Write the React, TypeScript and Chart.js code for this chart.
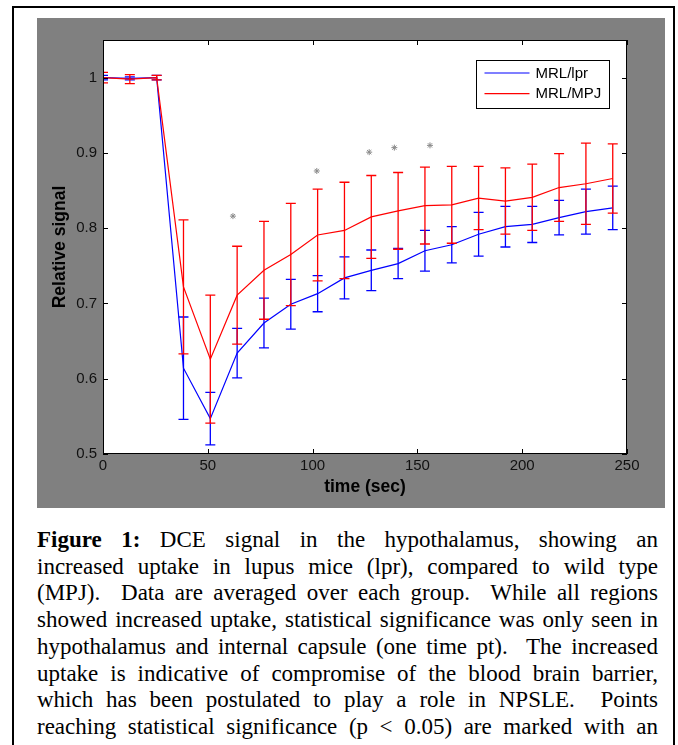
import React, { useEffect, useRef } from "react";
import { Chart, registerables } from "chart.js";
Chart.register(...registerables);

// time points (sec)
const times = [0, 12.8, 25.6, 38.4, 51.2, 64, 76.8, 89.6, 102.4, 115.2, 128, 140.8, 153.6, 166.4, 179.2, 192, 204.8, 217.6, 230.4, 243.2];
// MRL/lpr (blue)
const lprMean = [1.0, 0.999, 1.0, 0.614, 0.547, 0.634, 0.674, 0.699, 0.713, 0.734, 0.744, 0.753, 0.770, 0.778, 0.792, 0.802, 0.805, 0.814, 0.822, 0.827];
const lprErr = [0.003, 0.002, 0.003, 0.068, 0.035, 0.033, 0.033, 0.033, 0.024, 0.028, 0.027, 0.020, 0.027, 0.024, 0.029, 0.027, 0.024, 0.023, 0.030, 0.029];
// MRL/MPJ (red)
const mpjMean = [1.0, 0.998, 1.0, 0.722, 0.626, 0.711, 0.744, 0.765, 0.791, 0.797, 0.815, 0.823, 0.830, 0.831, 0.840, 0.836, 0.841, 0.854, 0.859, 0.866];
const mpjErr = [0.007, 0.006, 0.003, 0.089, 0.085, 0.065, 0.065, 0.068, 0.061, 0.064, 0.055, 0.051, 0.051, 0.051, 0.042, 0.044, 0.044, 0.045, 0.054, 0.046];
// significance markers
const starTimes = [62, 102, 127, 139, 156];
const starValues = [0.816, 0.876, 0.901, 0.907, 0.910];

const xTicks = [0, 50, 100, 150, 200, 250];
const yTicks = [0.5, 0.6, 0.7, 0.8, 0.9, 1];
const seriesLabels = ["MRL/lpr", "MRL/MPJ"];
const xTitle = "time (sec)";
const yTitle = "Relative signal";

const captionBold = "Figure 1:";
const captionLines = [
  " DCE signal in the hypothalamus, showing an",
  "increased uptake in lupus mice (lpr), compared to wild type",
  "(MPJ).  Data are averaged over each group.  While all regions",
  "showed increased uptake, statistical significance was only seen in",
  "hypothalamus and internal capsule (one time pt).  The increased",
  "uptake is indicative of compromise of the blood brain barrier,",
  "which has been postulated to play a role in NPSLE.  Points",
  "reaching statistical significance (p < 0.05) are marked with an",
];

const BLUE = "#0000ff";
const RED = "#ff0000";
const SANS = "'Liberation Sans', Arial, Helvetica, sans-serif";

const bgPlugin = {
  id: "bgPlugin",
  beforeDraw(chart: any) {
    const { ctx, chartArea: a } = chart;
    ctx.save();
    ctx.fillStyle = "#808080";
    ctx.fillRect(0, 0, chart.width, chart.height);
    ctx.fillStyle = "#ffffff";
    ctx.fillRect(a.left, a.top, a.right - a.left, a.bottom - a.top);
    ctx.restore();
  },
};

const errorBarPlugin = {
  id: "errorBarPlugin",
  afterDatasetDraw(chart: any, args: any) {
    const ds = chart.data.datasets[args.index];
    if (!ds.errors) return;
    const xs = chart.scales.x;
    const ys = chart.scales.y;
    const a = chart.chartArea;
    const ctx = chart.ctx;
    ctx.save();
    ctx.beginPath();
    ctx.rect(a.left, a.top, a.right - a.left, a.bottom - a.top);
    ctx.clip();
    ctx.strokeStyle = ds.borderColor;
    ctx.lineWidth = 1.3;
    ds.data.forEach((p: any, i: number) => {
      const px = xs.getPixelForValue(p.x);
      const top = ys.getPixelForValue(p.y + ds.errors[i]);
      const bot = ys.getPixelForValue(p.y - ds.errors[i]);
      ctx.beginPath();
      ctx.moveTo(px, top);
      ctx.lineTo(px, bot);
      ctx.moveTo(px - 5, top);
      ctx.lineTo(px + 5, top);
      ctx.moveTo(px - 5, bot);
      ctx.lineTo(px + 5, bot);
      ctx.stroke();
    });
    ctx.restore();
  },
};

const axesPlugin = {
  id: "axesPlugin",
  afterDatasetsDraw(chart: any) {
    const { ctx, chartArea: a } = chart;
    const xs = chart.scales.x;
    const ys = chart.scales.y;
    ctx.save();
    ctx.strokeStyle = "#000";
    ctx.lineWidth = 1;
    ctx.strokeRect(a.left + 0.5, a.top + 0.5, a.right - a.left - 1, a.bottom - a.top - 1);
    const tl = 5;
    ctx.beginPath();
    xTicks.forEach((v) => {
      const px = Math.round(xs.getPixelForValue(v)) + 0.5;
      ctx.moveTo(px, a.bottom);
      ctx.lineTo(px, a.bottom - tl);
      ctx.moveTo(px, a.top);
      ctx.lineTo(px, a.top + tl);
    });
    yTicks.forEach((v) => {
      const py = Math.round(ys.getPixelForValue(v)) + 0.5;
      ctx.moveTo(a.left, py);
      ctx.lineTo(a.left + tl, py);
      ctx.moveTo(a.right, py);
      ctx.lineTo(a.right - tl, py);
    });
    ctx.stroke();

    // legend box (inside the axes, top right)
    const bx = a.right - 150.5;
    const by = a.top + 20.5;
    const bw = 133;
    const bh = 48;
    ctx.fillStyle = "#fff";
    ctx.fillRect(bx, by, bw, bh);
    ctx.strokeRect(bx, by, bw, bh);
    const colors = [BLUE, RED];
    ctx.font = "15px " + SANS;
    ctx.textBaseline = "middle";
    ctx.textAlign = "left";
    seriesLabels.forEach((lab, i) => {
      const ly = by + 12.5 + i * 20.7;
      ctx.strokeStyle = colors[i];
      ctx.lineWidth = 1.2;
      ctx.beginPath();
      ctx.moveTo(bx + 8, ly);
      ctx.lineTo(bx + 53, ly);
      ctx.stroke();
      ctx.fillStyle = "#000";
      ctx.fillText(lab, bx + 59, ly + 0.5);
    });
    ctx.restore();
  },
};

function ChartView() {
  const ref = useRef<HTMLCanvasElement | null>(null);
  useEffect(() => {
    if (!ref.current) return;
    const toPts = (ys: number[]) => times.map((t, i) => ({ x: t, y: ys[i] }));
    const chart = new Chart(ref.current, {
      type: "line",
      data: {
        datasets: [
          {
            label: seriesLabels[0],
            data: toPts(lprMean),
            borderColor: BLUE,
            backgroundColor: BLUE,
            borderWidth: 1.2,
            pointRadius: 0,
            tension: 0,
            order: 3,
            errors: lprErr,
          } as any,
          {
            label: seriesLabels[1],
            data: toPts(mpjMean),
            borderColor: RED,
            backgroundColor: RED,
            borderWidth: 1.2,
            pointRadius: 0,
            tension: 0,
            order: 2,
            errors: mpjErr,
          } as any,
          {
            label: "p < 0.05",
            data: starTimes.map((t, i) => ({ x: t, y: starValues[i] })),
            showLine: false,
            pointStyle: "star",
            pointRadius: 3,
            pointBorderColor: "#8a8a8a",
            pointBackgroundColor: "#8a8a8a",
            pointBorderWidth: 1,
            borderColor: "#8a8a8a",
            order: 1,
          } as any,
        ],
      },
      options: {
        responsive: false,
        animation: false,
        devicePixelRatio: 1,
        layout: { padding: { top: 22, right: 38, left: 0, bottom: 0 } },
        plugins: { legend: { display: false }, tooltip: { enabled: false } },
        scales: {
          x: {
            type: "linear",
            min: 0,
            max: 250,
            grid: { display: false, drawTicks: false },
            border: { display: false },
            afterBuildTicks: (s: any) => {
              s.ticks = xTicks.map((v) => ({ value: v }));
            },
            afterFit: (s: any) => {
              s.height = 54;
            },
            ticks: {
              padding: 3,
              color: "#111",
              font: { family: SANS, size: 15 },
              maxRotation: 0,
              callback: (v: any) => String(v),
            },
            title: {
              display: true,
              text: xTitle,
              color: "#000",
              font: { family: SANS, size: 17.5, weight: "bold" },
              padding: { top: 0, bottom: 10 },
            },
          },
          y: {
            type: "linear",
            min: 0.5,
            max: 1.05,
            grid: { display: false, drawTicks: false },
            border: { display: false },
            afterBuildTicks: (s: any) => {
              s.ticks = yTicks.map((v) => ({ value: v }));
            },
            afterFit: (s: any) => {
              s.width = 66;
            },
            ticks: {
              padding: 6,
              color: "#111",
              font: { family: SANS, size: 15 },
              callback: (v: any) => String(v),
            },
            title: {
              display: true,
              text: yTitle,
              color: "#000",
              font: { family: SANS, size: 17.5, weight: "bold" },
              padding: { top: 13, bottom: 0 },
            },
          },
        },
      },
      plugins: [bgPlugin, errorBarPlugin, axesPlugin],
    } as any);
    return () => chart.destroy();
  }, []);
  return <canvas ref={ref} width={628} height={490} style={{ width: 628, height: 490, display: "block" }} />;
}

export default function App() {
  return (
    <div style={{ position: "absolute", left: 0, top: 0, width: 678, height: 745, overflow: "hidden", background: "#fff" }}>
      <div
        style={{
          position: "absolute",
          left: 12,
          top: 6,
          width: 663,
          height: 820,
          boxSizing: "border-box",
          border: "2px solid #000",
        }}
      />
      <div style={{ position: "absolute", left: 37, top: 18, width: 628, height: 490 }}>
        <ChartView />
      </div>
      <div
        style={{
          position: "absolute",
          left: 37,
          top: 527,
          width: 621,
          fontFamily: "'Liberation Serif', 'Times New Roman', serif",
          fontSize: 23,
          lineHeight: "26.7px",
          color: "#000",
        }}
      >
        {captionLines.map((line, i) => (
          <div key={i} style={{ whiteSpace: "pre", textAlign: "justify", textAlignLast: "justify" as any }}>
            {i === 0 ? <b>{captionBold}</b> : null}
            {line}
          </div>
        ))}
      </div>
    </div>
  );
}
